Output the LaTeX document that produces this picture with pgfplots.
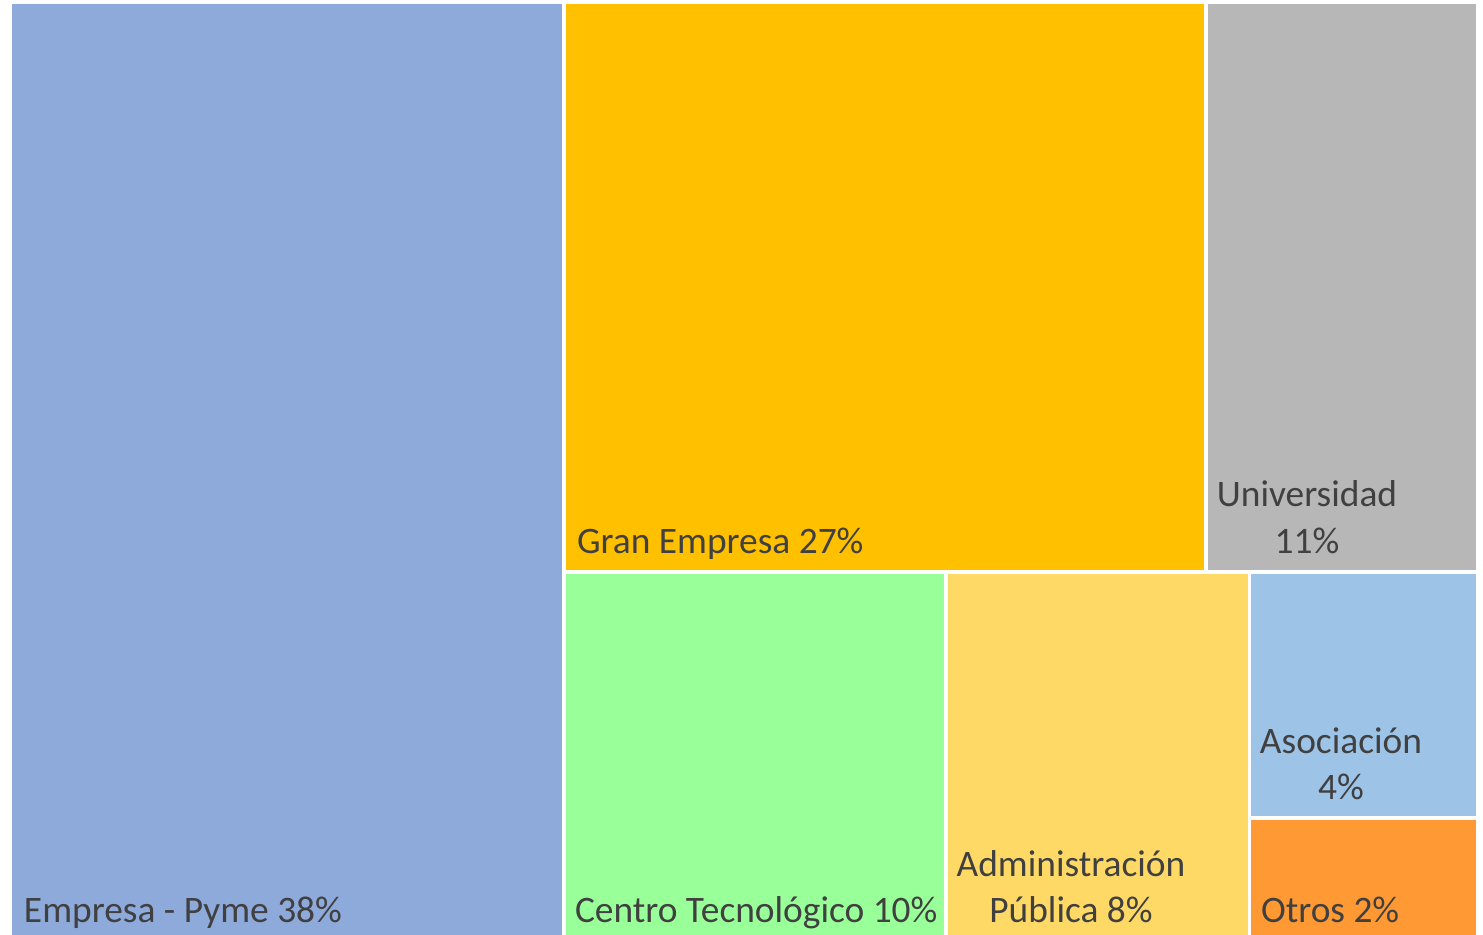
\documentclass[border=0pt]{standalone}
\usepackage{pgfplots}
\pgfplotsset{compat=1.18}
\usepackage{fontspec}
\setmainfont{Carlito}
\definecolor{cPyme}{HTML}{8EAADB}
\definecolor{cGran}{HTML}{FFC000}
\definecolor{cUni}{HTML}{B7B7B7}
\definecolor{cCentro}{HTML}{99FF99}
\definecolor{cAdmin}{HTML}{FFD966}
\definecolor{cAsoc}{HTML}{9DC3E6}
\definecolor{cOtros}{HTML}{FF9933}
\definecolor{txt}{HTML}{404040}
\tikzset{lbl/.style={font=\fontsize{18.7}{23}\selectfont, text=txt, inner sep=0pt, outer sep=0pt}}
\begin{document}
\begin{tikzpicture}
\begin{axis}[
  width=741.5pt, height=467.5pt, scale only axis,
  xmin=0, xmax=1483, ymin=0, ymax=935, y dir=reverse,
  hide axis, clip=false,
]
% background to fix the bounding box
\addplot[fill=white, draw=none] coordinates {(0,0) (1483,0) (1483,935) (0,935)} --cycle;
% Treemap tiles (shares: 38, 27, 11, 10, 8, 4, 2 %)
\addplot[fill=cPyme, draw=none] coordinates {(12,4) (562,4) (562,935) (12,935)} --cycle;
\addplot[fill=cGran, draw=none] coordinates {(566,4) (1204,4) (1204,570) (566,570)} --cycle;
\addplot[fill=cUni, draw=none] coordinates {(1208,4) (1476,4) (1476,570) (1208,570)} --cycle;
\addplot[fill=cCentro, draw=none] coordinates {(566,574) (944,574) (944,935) (566,935)} --cycle;
\addplot[fill=cAdmin, draw=none] coordinates {(948,574) (1248,574) (1248,935) (948,935)} --cycle;
\addplot[fill=cAsoc, draw=none] coordinates {(1251,574) (1476,574) (1476,816) (1251,816)} --cycle;
\addplot[fill=cOtros, draw=none] coordinates {(1251,820) (1476,820) (1476,935) (1251,935)} --cycle;
% labels
\node[lbl, anchor=base west] at (axis cs:24,922) {Empresa - Pyme 38\%};
\node[lbl, anchor=base west] at (axis cs:577,553) {Gran Empresa 27\%};
\node[lbl, anchor=base] at (axis cs:1307,507) {Universidad};
\node[lbl, anchor=base] at (axis cs:1307,553) {11\%};
\node[lbl, anchor=base west] at (axis cs:575,922) {Centro Tecnológico 10\%};
\node[lbl, anchor=base] at (axis cs:1071,876) {Administración};
\node[lbl, anchor=base] at (axis cs:1071,922) {Pública 8\%};
\node[lbl, anchor=base] at (axis cs:1341,753) {Asociación};
\node[lbl, anchor=base] at (axis cs:1341,799) {4\%};
\node[lbl, anchor=base west] at (axis cs:1261,922) {Otros 2\%};
\end{axis}
\end{tikzpicture}
\end{document}
